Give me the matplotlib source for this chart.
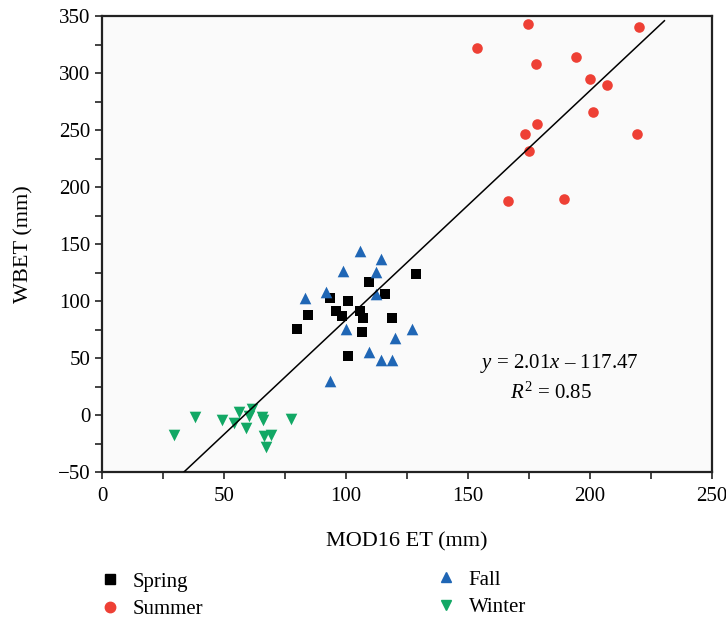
import matplotlib
matplotlib.use("Agg")
import matplotlib.pyplot as plt
import numpy as np
from matplotlib.ticker import MultipleLocator
from matplotlib.lines import Line2D

plt.rcParams['font.family'] = ['Liberation Serif', 'DejaVu Serif']
plt.rcParams['mathtext.fontset'] = 'custom'
plt.rcParams['mathtext.rm'] = 'Liberation Serif'
plt.rcParams['mathtext.it'] = 'Liberation Serif:italic'

spring_x = [128.6, 109.4, 116.0, 93.3, 100.7, 84.6, 95.9, 98.5, 105.6, 107.0, 118.7, 80.0, 106.6, 100.7]
spring_y = [123.7, 116.9, 106.4, 102.6, 100.0, 88.0, 91.5, 86.8, 91.5, 84.8, 85.4, 75.7, 73.1, 51.5]

summer_x = [174.7, 220.2, 153.7, 178.0, 194.3, 200.0, 206.8, 201.1, 178.4, 173.2, 219.1, 174.9, 166.5, 189.2]
summer_y = [343.0, 340.1, 321.9, 307.9, 314.3, 294.5, 289.5, 265.5, 255.0, 246.5, 246.5, 231.8, 187.7, 189.5]

fall_x = [105.7, 114.3, 98.6, 112.4, 91.8, 83.1, 112.4, 99.9, 126.9, 120.1, 109.6, 114.2, 118.7, 93.4]
fall_y = [144.1, 136.6, 126.3, 125.7, 107.9, 102.4, 105.9, 75.2, 75.2, 67.8, 55.5, 48.2, 48.2, 30.1]

winter_x = [29.4, 38.2, 49.0, 54.0, 56.1, 58.9, 60.1, 61.3, 65.7, 65.9, 77.3, 66.4, 69.4, 67.2]
winter_y = [-17.8, -2.0, -4.4, -7.3, 2.9, -11.7, -0.9, 5.5, -1.5, -4.4, -3.5, -18.4, -17.8, -27.8]

slope = 2.01
intercept = -117.47
fit_x_range = [33.6, 230.5]

fig = plt.figure(figsize=(7.26, 6.18), dpi=100)
ax = fig.add_axes([0.1405, 0.2362, 0.8402, 0.7379])
ax.set_facecolor('#fafafa')

c_spring = '#000000'
c_summer = '#EE4035'
c_fall = '#1F66B5'
c_winter = '#12A865'

ax.scatter(spring_x, spring_y, marker='s', s=42, color=c_spring, zorder=3, linewidths=0)
ax.scatter(summer_x, summer_y, marker='o', s=58, color=c_summer, zorder=3, linewidths=0)
ax.scatter(fall_x, fall_y, marker='^', s=70, color=c_fall, zorder=3, linewidths=0)
ax.scatter(winter_x, winter_y, marker='v', s=70, color=c_winter, zorder=3, linewidths=0)

fx = np.array(fit_x_range)
ax.plot(fx, slope * fx + intercept, color='black', lw=1.1, zorder=4)

ax.set_xlim(0, 250)
ax.set_ylim(-50, 350)
ax.xaxis.set_major_locator(MultipleLocator(50))
ax.xaxis.set_minor_locator(MultipleLocator(25))
ax.yaxis.set_major_locator(MultipleLocator(50))
ax.yaxis.set_minor_locator(MultipleLocator(25))
ax.tick_params(which='both', direction='out', top=False, right=False, labelsize=15, width=1.2, color='#222222')
ax.tick_params(which='major', length=5)
ax.tick_params(which='minor', length=5)
ax.tick_params(axis='x', pad=6)
ax.set_yticklabels([f"{int(v)}".replace('-', '\u2212') for v in ax.get_yticks()])

for s in ax.spines.values():
    s.set_linewidth(1.6)
    s.set_color('#222222')

ax.set_xlabel('MOD16 ET (mm)', fontsize=16, labelpad=19)
ax.set_ylabel('WBET (mm)', fontsize=16, labelpad=17)

ax.text(187.5, 45.5, '$y$ = 2.01$x$ \u2013 117.47', fontsize=15, ha='center', va='center')
ax.text(184, 19.5, r'$R^2$ = 0.85', fontsize=15, ha='center', va='center')

h_spring = Line2D([], [], marker='s', color=c_spring, ls='none', markersize=7)
h_summer = Line2D([], [], marker='o', color=c_summer, ls='none', markersize=7.5)
h_fall = Line2D([], [], marker='^', color=c_fall, ls='none', markersize=7.5)
h_winter = Line2D([], [], marker='v', color=c_winter, ls='none', markersize=7.5)

leg1 = fig.legend([h_spring, h_summer], ['Spring', 'Summer'], loc='upper left',
                  bbox_to_anchor=(0.125, 0.088), frameon=False, fontsize=15,
                  handlelength=1.0, handletextpad=0.6, labelspacing=0.39, borderaxespad=0)
leg2 = fig.legend([h_fall, h_winter], ['Fall', 'Winter'], loc='upper left',
                  bbox_to_anchor=(0.588, 0.091), frameon=False, fontsize=15,
                  handlelength=1.0, handletextpad=0.6, labelspacing=0.39, borderaxespad=0)

fig.savefig('out.png', dpi=100)
